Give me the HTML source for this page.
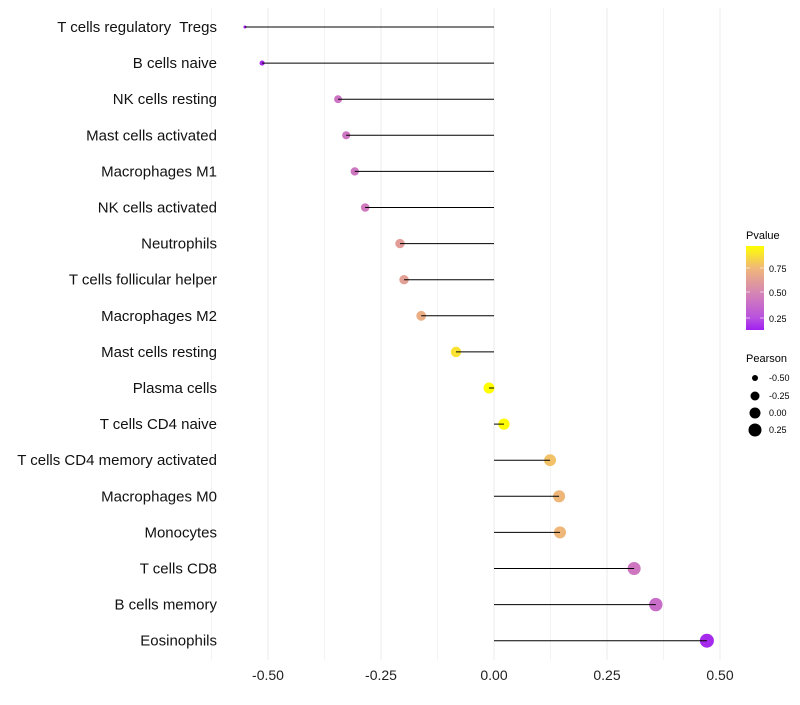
<!DOCTYPE html>
<html><head><meta charset="utf-8"><style>
body{margin:0;background:#fff;font-family:"Liberation Sans",sans-serif}
text{white-space:pre}
</style></head><body>
<svg id="c" width="800" height="700" xmlns="http://www.w3.org/2000/svg">
<defs><linearGradient id="g" x1="0" y1="1" x2="0" y2="0">
<stop offset="0" stop-color="#a020f0"/><stop offset="0.14" stop-color="#b850e0"/><stop offset="0.44" stop-color="#d585b5"/><stop offset="0.74" stop-color="#f0b878"/><stop offset="1" stop-color="#ffff00"/>
</linearGradient></defs>
<g id="grid"></g><g id="marks"></g><g id="labels"></g>
<g font-size="10" fill="#000">
<text x="746" y="239" font-size="11">Pvalue</text>
<rect x="746" y="246" width="18" height="84" fill="url(#g)"/>
<line x1="746" y1="268" x2="750" y2="268" stroke="#fff" stroke-opacity="0.6"/><line x1="760" y1="268" x2="764" y2="268" stroke="#fff" stroke-opacity="0.6"/>
<line x1="746" y1="292" x2="750" y2="292" stroke="#fff" stroke-opacity="0.6"/><line x1="760" y1="292" x2="764" y2="292" stroke="#fff" stroke-opacity="0.6"/>
<line x1="746" y1="318" x2="750" y2="318" stroke="#fff" stroke-opacity="0.6"/><line x1="760" y1="318" x2="764" y2="318" stroke="#fff" stroke-opacity="0.6"/>
<text x="769" y="272" font-size="9">0.75</text><text x="769" y="296" font-size="9">0.50</text><text x="769" y="322" font-size="9">0.25</text>
<text x="746" y="362" font-size="11">Pearson</text>
<circle cx="755" cy="378" r="3"/><text x="769" y="381" font-size="9">-0.50</text>
<circle cx="755" cy="396" r="4.5"/><text x="769" y="399" font-size="9">-0.25</text>
<circle cx="755" cy="413" r="5.5"/><text x="769" y="416" font-size="9">0.00</text>
<circle cx="755" cy="430" r="6.5"/><text x="769" y="433" font-size="9">0.25</text>
</g>
</svg>
<script>
const categories=["T cells regulatory  Tregs","B cells naive","NK cells resting","Mast cells activated","Macrophages M1","NK cells activated","Neutrophils","T cells follicular helper","Macrophages M2","Mast cells resting","Plasma cells","T cells CD4 naive","T cells CD4 memory activated","Macrophages M0","Monocytes","T cells CD8","B cells memory","Eosinophils"];
const pearson=[-0.551,-0.513,-0.345,-0.327,-0.308,-0.285,-0.208,-0.199,-0.161,-0.084,-0.011,0.022,0.124,0.144,0.146,0.310,0.358,0.471];
const pvalues=[0.13,0.15,0.40,0.41,0.42,0.44,0.62,0.63,0.70,0.88,0.97,0.96,0.78,0.74,0.74,0.42,0.36,0.15];
const xTicks=[-0.5,-0.25,0,0.25,0.5];
const xTickLabels=["-0.50","-0.25","0.00","0.25","0.50"];
const NS="http://www.w3.org/2000/svg";
const X=v=>494+v*452;
const Y=i=>27+i*36.1;
const R=v=>1.5+5.5*Math.sqrt(Math.max(0,(v+0.55)/1.02));
const stops=[[0.13,[160,32,240]],[0.25,[190,90,215]],[0.5,[213,133,181]],[0.75,[240,184,120]],[0.97,[255,255,0]]];
function col(p){p=Math.max(0.13,Math.min(0.97,p));for(let k=0;k<stops.length-1;k++){const a=stops[k],b=stops[k+1];if(p<=b[0]){const t=(p-a[0])/(b[0]-a[0]);return "rgb("+a[1].map((c,j)=>Math.round(c+(b[1][j]-c)*t)).join(",")+")";}}return "rgb(255,255,0)";}
function mk(t,a,parent){const e=document.createElementNS(NS,t);for(const k in a)e.setAttribute(k,a[k]);parent.appendChild(e);return e;}
const grid=document.getElementById('grid'),marks=document.getElementById('marks'),labels=document.getElementById('labels');
for(let v=-0.625;v<=0.55;v+=0.125){const l=mk('line',{x1:X(v),x2:X(v),y1:8,y2:660,stroke:'#ebebeb','stroke-width':xTicks.some(t=>Math.abs(t-v)<1e-9)?1:0.6},grid);

}
xTicks.forEach((t,i)=>{const tx=mk('text',{x:X(t),y:680,'text-anchor':'middle','font-size':14,fill:'#222'},labels);tx.textContent=xTickLabels[i];

});
categories.forEach((c,i)=>{const tx=mk('text',{x:217,y:Y(i)+5,'text-anchor':'end','font-size':15,fill:'#111'},labels);tx.textContent=c;


const v=pearson[i];
const pt=mk('circle',{cx:X(v),cy:Y(i),r:R(v),fill:col(pvalues[i])},marks);

});
categories.forEach((c,i)=>{const ln=mk('line',{x1:X(0),x2:X(pearson[i]),y1:Y(i),y2:Y(i),stroke:'#000','stroke-width':1},marks);

});
</script>
</body></html>
